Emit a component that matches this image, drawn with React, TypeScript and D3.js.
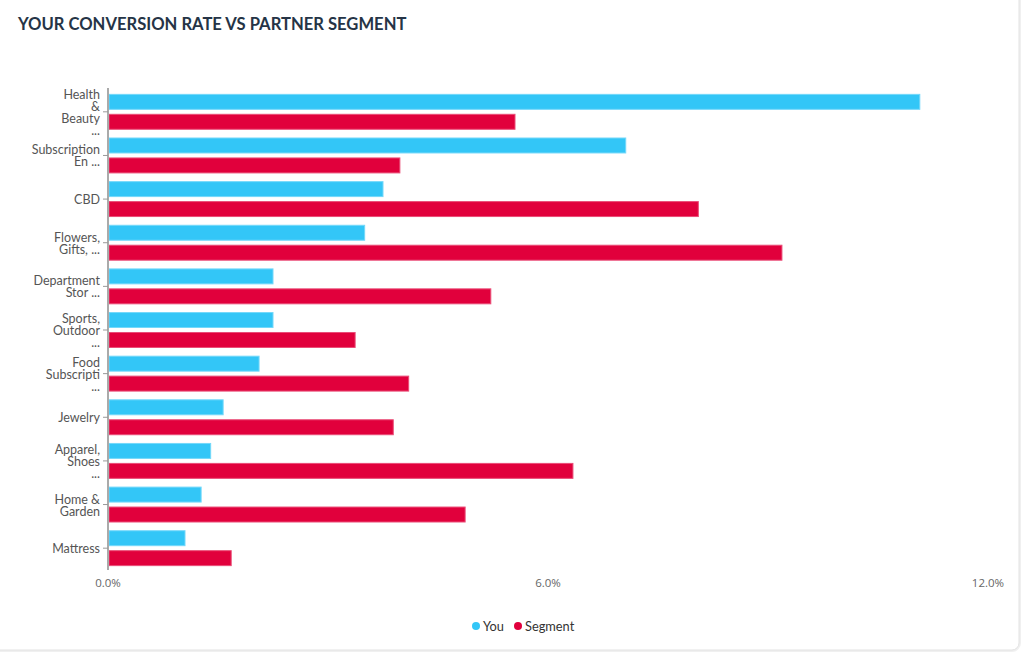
import React from "react";
import * as d3 from "d3";

const categories: string[][] = [
  ["Health", "&", "Beauty", "..."],
  ["Subscription", "En ..."],
  ["CBD"],
  ["Flowers,", "Gifts, ..."],
  ["Department", "Stor ..."],
  ["Sports,", "Outdoor", "..."],
  ["Food", "Subscripti", "..."],
  ["Jewelry"],
  ["Apparel,", "Shoes", "..."],
  ["Home &", "Garden"],
  ["Mattress"],
];
const youValues = [11.07, 7.06, 3.75, 3.5, 2.25, 2.25, 2.06, 1.57, 1.4, 1.27, 1.05];
const segmentValues = [5.55, 3.98, 8.05, 9.19, 5.22, 3.37, 4.1, 3.89, 6.34, 4.87, 1.68];
const seriesNames = ["You", "Segment"];
const seriesColors = ["#33c6f7", "#e1003c"];
const seriesStroke = ["#74d8fa", "#ea4d77"];
const xTicks = [0, 6, 12];

const W = 1023;
const H = 656;

export default function App() {
  const keys = categories.map((c, i) => String(i));
  const x = d3.scaleLinear().domain([0, 12]).range([108, 988]);
  const y0 = d3.scaleBand<string>().domain(keys).range([90, 570]).paddingInner(0.2).paddingOuter(0.1);
  const y1 = d3.scaleBand<string>().domain(seriesNames).range([0, y0.bandwidth()]).paddingInner(0.25).paddingOuter(0);
  const series = [youValues, segmentValues];
  const fmt = d3.format(".1f");
  const labelFont = "Lato, 'Open Sans', sans-serif";

  return (
    <svg width={W} height={H} style={{ position: "fixed", left: 0, top: 0, background: "#fff" }}>
      <rect x={-10} y={-10} width={1029} height={660} rx={7} fill="#fff" stroke="#f0f0f0" strokeWidth={4} />
      <rect x={-10} y={-10} width={1029} height={660} rx={7} fill="#fff" stroke="#e2e2e2" strokeWidth={1} />
      <text x={18} y={30} fontFamily={labelFont} fontWeight={700} fontSize={16.6} fill="#253446">
        YOUR CONVERSION RATE VS PARTNER SEGMENT
      </text>

      {/* bars */}
      {keys.map((k, i) => (
        <g key={k} transform={`translate(0,${y0(k)})`}>
          {series.map((vals, s) => (
            <rect
              key={s}
              x={x(0) + 1}
              y={y1(seriesNames[s])!}
              width={x(vals[i]) - x(0) - 1}
              height={y1.bandwidth()}
              fill={seriesColors[s]}
              stroke={seriesStroke[s]}
              strokeWidth={1}
            />
          ))}
        </g>
      ))}

      {/* y axis */}
      <line x1={x(0)} x2={x(0)} y1={88} y2={570} stroke="#aaaaaa" strokeWidth={2} />
      {keys.map((k, i) => {
        const cy = y0(k)! + y0.bandwidth() / 2;
        const lines = categories[i];
        const lh = 12;
        const start = cy - ((lines.length - 1) * lh) / 2;
        return (
          <g key={k}>
            <line x1={x(0) - 5} x2={x(0)} y1={cy} y2={cy} stroke="#999" strokeWidth={1} />
            {lines.map((l, j) => (
              <text
                key={j}
                x={100}
                y={start + j * lh + 5}
                textAnchor="end"
                fontFamily={labelFont}
                fontSize={12.5}
                fill="#555"
              >
                {l}
              </text>
            ))}
          </g>
        );
      })}

      {/* x ticks */}
      {xTicks.map((t) => (
        <text
          key={t}
          x={x(t)}
          y={587}
          textAnchor="middle"
          fontFamily="'Open Sans', sans-serif"
          fontSize={11.5}
          fill="#666"
        >
          {fmt(t) + "%"}
        </text>
      ))}

      {/* legend */}
      {seriesNames.map((n, s) => {
        const lx = s === 0 ? 476 : 518;
        return (
          <g key={n}>
            <circle cx={lx} cy={626} r={4} fill={seriesColors[s]} />
            <text x={lx + 7} y={630.5} fontFamily={labelFont} fontSize={12.8} fill="#333">
              {n}
            </text>
          </g>
        );
      })}
    </svg>
  );
}
